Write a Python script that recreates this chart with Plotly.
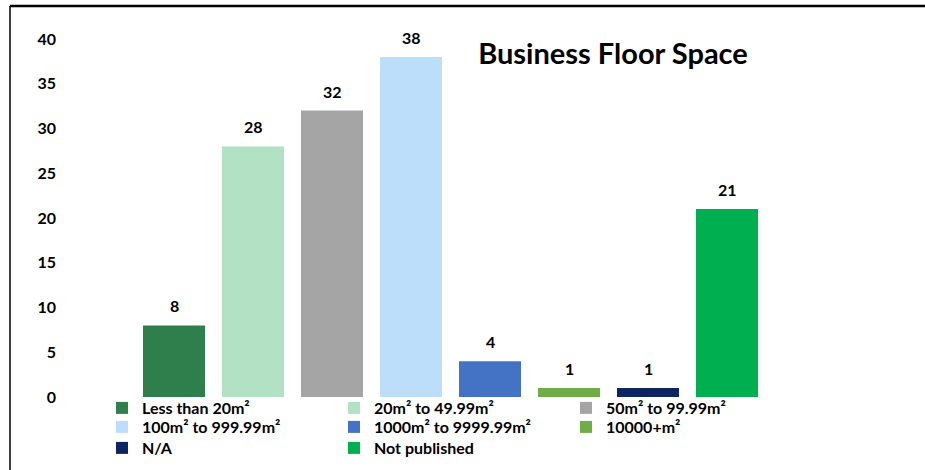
import plotly.graph_objects as go

categories = ["Less than 20m²", "20m² to 49.99m²", "50m² to 99.99m²",
              "100m² to 999.99m²", "1000m² to 9999.99m²", "10000+m²",
              "N/A", "Not published"]
values = [8, 28, 32, 38, 4, 1, 1, 21]
colors = ["#2F7F4D", "#B2E1C3", "#A5A5A5", "#BDDEFB", "#4472C4",
          "#70AD47", "#0C2461", "#00B050"]
title_text = "Business Floor Space"
y_ticks = [0, 5, 10, 15, 20, 25, 30, 35, 40]

FONT = "Lato, 'Open Sans', sans-serif"
W, H = 925, 470

# legend rows (3 entries per row, as in the reference)
legend_ids = ["legend", "legend", "legend", "legend2", "legend2", "legend2",
              "legend3", "legend3"]

fig = go.Figure()
for cat, val, col, lg in zip(categories, values, colors, legend_ids):
    fig.add_trace(go.Bar(
        x=[cat], y=[val], name=f"<b>{cat}</b>",
        marker=dict(color=col, line=dict(width=0)),
        showlegend=True, legend=lg,
    ))
    fig.add_annotation(
        x=cat, y=val, text=f"<b>{val}</b>", showarrow=False,
        yanchor="bottom", yshift=8,
        font=dict(family=FONT, size=16, color="#000000"),
    )

# plot area geometry (pixels)
top_px, zero_px, bot_px = 39, 397, 466
first_bar_px, step_px = 174, 79
unit = (zero_px - top_px) / 40.0
y_min = -(bot_px - zero_px) / unit
ml, mr, mt, mb = 100, 100, top_px, H - bot_px
pw, ph = W - ml - mr, H - mt - mb
x_r0 = -(first_bar_px - ml) / step_px
x_r1 = x_r0 + pw / step_px

def px_x(p):
    return (p - ml) / pw

def px_y(p):
    return (H - mb - p) / ph

def row_legend(center_px):
    return dict(
        orientation="h", traceorder="normal",
        xref="paper", x=px_x(102), xanchor="left",
        yref="paper", y=px_y(center_px), yanchor="middle",
        entrywidth=187, entrywidthmode="pixels",
        font=dict(family=FONT, size=16, color="#000000"),
        itemwidth=30, tracegroupgap=0,
        bgcolor="rgba(0,0,0,0)",
    )

fig.update_layout(
    width=W, height=H,
    margin=dict(l=ml, r=mr, t=mt, b=mb, pad=0),
    paper_bgcolor="white", plot_bgcolor="white",
    barmode="overlay", bargap=0.215,
    font=dict(family=FONT, color="#000000"),
    title=dict(
        text=f"<b>{title_text}</b>",
        font=dict(family=FONT, size=29, color="#000000"),
        xref="container", x=613 / W, xanchor="center",
        yref="container", y=1 - 54 / H, yanchor="middle",
    ),
    xaxis=dict(
        categoryorder="array", categoryarray=categories,
        showticklabels=False, showgrid=False, zeroline=False,
        showline=False, ticks="", range=[x_r0, x_r1],
    ),
    yaxis=dict(
        range=[y_min, 40], tickvals=y_ticks,
        ticktext=[f"<b>{t}</b>" for t in y_ticks],
        showgrid=False, zeroline=False, showline=False, ticks="",
        ticklabelstandoff=ml - 57,
        tickfont=dict(family=FONT, size=16, color="#000000"),
    ),
    legend=row_legend(408),
    legend2=row_legend(427),
    legend3=row_legend(448),
    shapes=[
        dict(type="line", xref="paper", yref="paper",
             x0=px_x(10), x1=px_x(W), y0=px_y(6), y1=px_y(6),
             line=dict(color="#000000", width=2.5)),
        dict(type="line", xref="paper", yref="paper",
             x0=px_x(10), x1=px_x(10), y0=px_y(6), y1=px_y(H),
             line=dict(color="#000000", width=1.5)),
    ],
)

fig.write_html(
    "out.html",
    config={"displayModeBar": False},
    post_script="document.body.style.margin='0';"
                "document.body.style.overflow='hidden';",
)
